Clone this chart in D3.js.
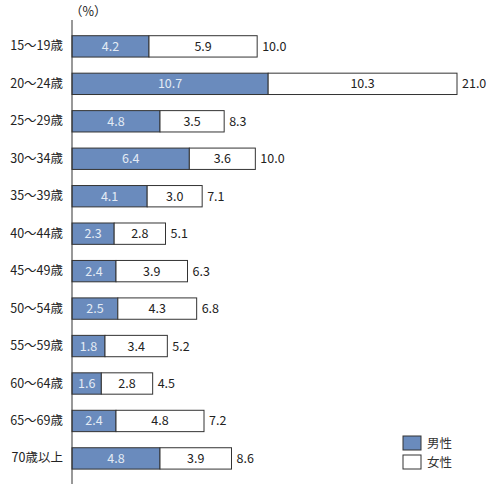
<!DOCTYPE html>
<html>
<head>
<meta charset="utf-8">
<script src="https://cdn.jsdelivr.net/npm/d3@7.9.0/dist/d3.min.js"></script>
<style>
  body { margin: 0; background: #fff; }
  svg { font-family: "Noto Sans CJK JP", "Noto Sans", sans-serif; }
</style>
</head>
<body>
<svg width="500" height="486"></svg>
<script>
const categories = ['15～19歳', '20～24歳', '25～29歳', '30～34歳', '35～39歳', '40～44歳',
  '45～49歳', '50～54歳', '55～59歳', '60～64歳', '65～69歳', '70歳以上'];
const male = [4.2, 10.7, 4.8, 6.4, 4.1, 2.3, 2.4, 2.5, 1.8, 1.6, 2.4, 4.8];
const female = [5.9, 10.3, 3.5, 3.6, 3.0, 2.8, 3.9, 4.3, 3.4, 2.8, 4.8, 3.9];
const totals = [10.0, 21.0, 8.3, 10.0, 7.1, 5.1, 6.3, 6.8, 5.2, 4.5, 7.2, 8.6];
const seriesNames = ['男性', '女性'];

const svg = d3.select('svg');
const colors = ['#6a8bbd', '#ffffff'];

const x = d3.scaleLinear().domain([0, 21]).range([72, 457]);
const y = d3.scaleBand().domain(categories).range([19.6, 485.2]).padding(0.43);

// stacked bars
categories.forEach((c, i) => {
    const vals = [male[i], female[i]];
    let start = 0;
    vals.forEach((v, j) => {
        svg.append('rect')
            .attr('x', x(start))
            .attr('y', y(c))
            .attr('width', x(start + v) - x(start))
            .attr('height', y.bandwidth())
            .attr('fill', colors[j])
            .attr('stroke', '#333')
            .attr('stroke-width', 1);
        svg.append('text')
            .attr('x', (x(start) + x(start + v)) / 2)
            .attr('y', y(c) + y.bandwidth() / 2)
            .attr('dy', '0.36em')
            .attr('text-anchor', 'middle')
            .attr('font-size', 12.5)
            .attr('fill', j === 0 ? '#e4ebf5' : '#222')
            .text(v.toFixed(1));
        start += v;
    });
    svg.append('text')
        .attr('x', x(start) + 5)
        .attr('y', y(c) + y.bandwidth() / 2)
        .attr('dy', '0.36em')
        .attr('font-size', 12.5)
        .attr('fill', '#222')
        .text(totals[i].toFixed(1));
});

// category axis
const yAxis = svg.append('g')
    .attr('transform', `translate(${x(0)},0)`)
    .call(d3.axisLeft(y).tickSize(0).tickPadding(9));
yAxis.select('.domain').remove();
yAxis.selectAll('text')
    .attr('font-size', 12.5)
    .attr('fill', '#222')
    .attr('font-family', '"Noto Sans CJK JP", sans-serif');

svg.append('line')
    .attr('x1', x(0)).attr('x2', x(0))
    .attr('y1', 20).attr('y2', 484)
    .attr('stroke', '#333')
    .attr('stroke-width', 1);

// unit
svg.append('text')
    .attr('x', 70)
    .attr('y', 16)
    .attr('font-size', 12.5)
    .attr('fill', '#222')
    .text('（%）');

// legend
const legend = svg.append('g').attr('transform', 'translate(403,436)');
seriesNames.forEach((name, i) => {
    legend.append('rect')
        .attr('x', 0).attr('y', i * 19)
        .attr('width', 18).attr('height', 14)
        .attr('fill', colors[i])
        .attr('stroke', '#333');
    legend.append('text')
        .attr('x', 24).attr('y', i * 19 + 7)
        .attr('dy', '0.36em')
        .attr('font-size', 12.5)
        .attr('fill', '#333')
        .text(name);
});
</script>
</body>
</html>
